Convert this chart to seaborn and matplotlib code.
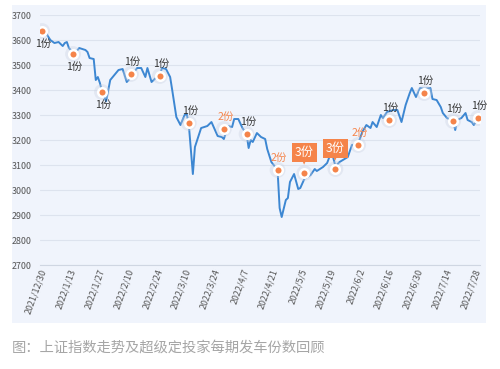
import matplotlib
matplotlib.use('Agg')
import matplotlib.pyplot as plt
import seaborn as sns
import pandas as pd
from matplotlib.patches import Rectangle

# Shanghai composite index
line_dates = ['2021-12-30', '2022-01-02', '2022-01-04', '2022-01-06', '2022-01-08', '2022-01-09',
              '2022-01-10', '2022-01-11', '2022-01-13', '2022-01-14', '2022-01-16', '2022-01-19',
              '2022-01-20', '2022-01-21', '2022-01-23', '2022-01-24', '2022-01-25', '2022-01-26',
              '2022-01-27', '2022-01-29', '2022-01-31', '2022-02-04', '2022-02-06', '2022-02-08',
              '2022-02-10', '2022-02-11', '2022-02-13', '2022-02-15', '2022-02-17', '2022-02-18',
              '2022-02-20', '2022-02-22', '2022-02-24', '2022-02-25', '2022-02-27', '2022-03-01',
              '2022-03-02', '2022-03-04', '2022-03-06', '2022-03-08', '2022-03-09', '2022-03-10',
              '2022-03-12', '2022-03-13', '2022-03-16', '2022-03-19', '2022-03-21', '2022-03-24',
              '2022-03-26', '2022-03-27', '2022-03-29', '2022-03-31', '2022-04-01', '2022-04-03',
              '2022-04-05', '2022-04-07', '2022-04-08', '2022-04-09', '2022-04-10', '2022-04-12',
              '2022-04-14', '2022-04-16', '2022-04-17', '2022-04-19', '2022-04-22', '2022-04-23',
              '2022-04-24', '2022-04-26', '2022-04-27', '2022-04-28', '2022-04-30', '2022-05-02',
              '2022-05-03', '2022-05-05', '2022-05-08', '2022-05-10', '2022-05-11', '2022-05-14',
              '2022-05-16', '2022-05-18', '2022-05-19', '2022-05-20', '2022-05-22', '2022-05-26',
              '2022-05-28', '2022-05-31', '2022-06-02', '2022-06-04', '2022-06-06', '2022-06-07',
              '2022-06-09', '2022-06-11', '2022-06-12', '2022-06-14', '2022-06-17', '2022-06-19',
              '2022-06-21', '2022-06-23', '2022-06-25', '2022-06-26', '2022-06-28', '2022-06-30',
              '2022-07-02', '2022-07-05', '2022-07-06', '2022-07-08', '2022-07-10', '2022-07-11',
              '2022-07-13', '2022-07-16', '2022-07-17', '2022-07-18', '2022-07-20', '2022-07-22',
              '2022-07-23', '2022-07-25', '2022-07-26', '2022-07-28']
line_values = [3640, 3600, 3588, 3592, 3576, 3588,
               3592, 3568, 3550, 3548, 3568, 3560,
               3552, 3528, 3524, 3440, 3452, 3428,
               3395, 3355, 3440, 3480, 3484, 3432,
               3450, 3465, 3488, 3488, 3452, 3488,
               3432, 3448, 3455, 3488, 3484, 3452,
               3400, 3292, 3260, 3300, 3305, 3265,
               3064, 3172, 3248, 3256, 3272, 3216,
               3212, 3204, 3256, 3252, 3284, 3284,
               3248, 3224, 3168, 3200, 3192, 3228,
               3212, 3204, 3164, 3112, 3080, 2928,
               2892, 2960, 2968, 3032, 3064, 3004,
               3008, 3045, 3060, 3084, 3076, 3092,
               3108, 3152, 3128, 3095, 3112, 3132,
               3180, 3185, 3232, 3260, 3248, 3272,
               3252, 3300, 3288, 3312, 3320, 3320,
               3272, 3340, 3388, 3408, 3372, 3408,
               3405, 3408, 3364, 3360, 3332, 3308,
               3288, 3276, 3240, 3280, 3288, 3308,
               3280, 3272, 3260, 3285]

# departures and number of shares
buy_dates = ['2021-12-29', '2022-01-13', '2022-01-27', '2022-02-10', '2022-02-24', '2022-03-10',
             '2022-03-27', '2022-04-07', '2022-04-22', '2022-05-05', '2022-05-20', '2022-05-31',
             '2022-06-15', '2022-07-02', '2022-07-16', '2022-07-28']
buy_values = [3636, 3544, 3392, 3464, 3456, 3268, 3244, 3224, 3080, 3068, 3084, 3180,
              3280, 3388, 3276, 3288]
buy_counts = [1, 1, 1, 1, 1, 1, 2, 1, 2, 3, 3, 2, 1, 1, 1, 1]

tick_labels = ['2021/12/30', '2022/1/13', '2022/1/27', '2022/2/10', '2022/2/24', '2022/3/10',
               '2022/3/24', '2022/4/7', '2022/4/21', '2022/5/5', '2022/5/19', '2022/6/2',
               '2022/6/16', '2022/6/30', '2022/7/14', '2022/7/28']
y_ticks = [2700, 2800, 2900, 3000, 3100, 3200, 3300, 3400, 3500, 3600, 3700]
caption = '图：上证指数走势及超级定投家每期发车份数回顾'

sns.set_style('white')
plt.rcParams['font.family'] = ['Noto Sans CJK SC', 'DejaVu Sans']

blue = '#3d87d2'
orange = '#f5844a'
panel = '#f0f4fc'

df = pd.DataFrame({'date': pd.to_datetime(line_dates), 'value': line_values})
buys = pd.DataFrame({'date': pd.to_datetime(buy_dates), 'value': buy_values, 'n': buy_counts})

fig = plt.figure(figsize=(5, 3.69), dpi=100)
fig.patches.append(Rectangle((0.024, 0.1247), 0.948, 0.862, transform=fig.transFigure,
                             facecolor=panel, edgecolor='none', zorder=-1))
ax = fig.add_axes([0.08, 0.2818, 0.88, 0.6775])
ax.set_zorder(1)
ax.set_facecolor(panel)

sns.lineplot(data=df, x='date', y='value', color=blue, linewidth=1.4, ax=ax, zorder=3)
# soft halo, then the dots
sns.scatterplot(data=buys, x='date', y='value', s=130, color='#c8d0e0', alpha=0.35,
                edgecolor='none', ax=ax, zorder=4)
sns.scatterplot(data=buys, x='date', y='value', s=38, color=orange, edgecolor='white',
                linewidth=1.8, ax=ax, zorder=5)

for i, row in buys.iterrows():
    txt = f'{row.n}份'
    if row.n == 3:
        ax.annotate(txt, (row.date, row.value), xytext=(0, 14.5), textcoords='offset points',
                    ha='center', va='center', fontsize=8.8, color='white', zorder=7,
                    bbox=dict(boxstyle='square,pad=0.25', fc=orange, ec='none'))
        ax.annotate('▼', (row.date, row.value), xytext=(0, 7.5), textcoords='offset points',
                    ha='center', va='center', fontsize=4, color=orange, zorder=6,
                    family='DejaVu Sans')
    else:
        dy = -9 if i < 3 else 9
        col = orange if row.n == 2 else '#333333'
        ax.annotate(txt, (row.date, row.value), xytext=(1, dy), textcoords='offset points',
                    ha='center', va='center', fontsize=7.5, color=col, zorder=6)

ax.set_ylim(2700, 3700)
ax.set_yticks(y_ticks)
ax.set_xlim(pd.Timestamp('2021-12-28'), pd.Timestamp('2022-07-29'))
ax.set_xticks(pd.to_datetime(tick_labels, format='%Y/%m/%d'))
ax.set_xticklabels(tick_labels, rotation=70, ha='right', va='center', rotation_mode='anchor')
ax.tick_params(axis='both', length=0, labelsize=6.4, labelcolor='#555555')
ax.tick_params(axis='x', pad=3)
ax.tick_params(axis='y', pad=6)
ax.grid(axis='y', color='#dde3ee', linewidth=0.8)
ax.grid(axis='x', visible=False)
for s in ['top', 'right', 'left']:
    ax.spines[s].set_visible(False)
ax.spines['bottom'].set_linestyle((0, (1, 1)))
ax.spines['bottom'].set_color('#cfd6e2')
ax.spines['bottom'].set_linewidth(0.8)
ax.set_xlabel('')
ax.set_ylabel('')

fig.text(0.024, 0.057, caption, fontsize=10.3, color='#a6a6a6', va='center', ha='left')

fig.savefig('out.png', dpi=100, facecolor='white')
